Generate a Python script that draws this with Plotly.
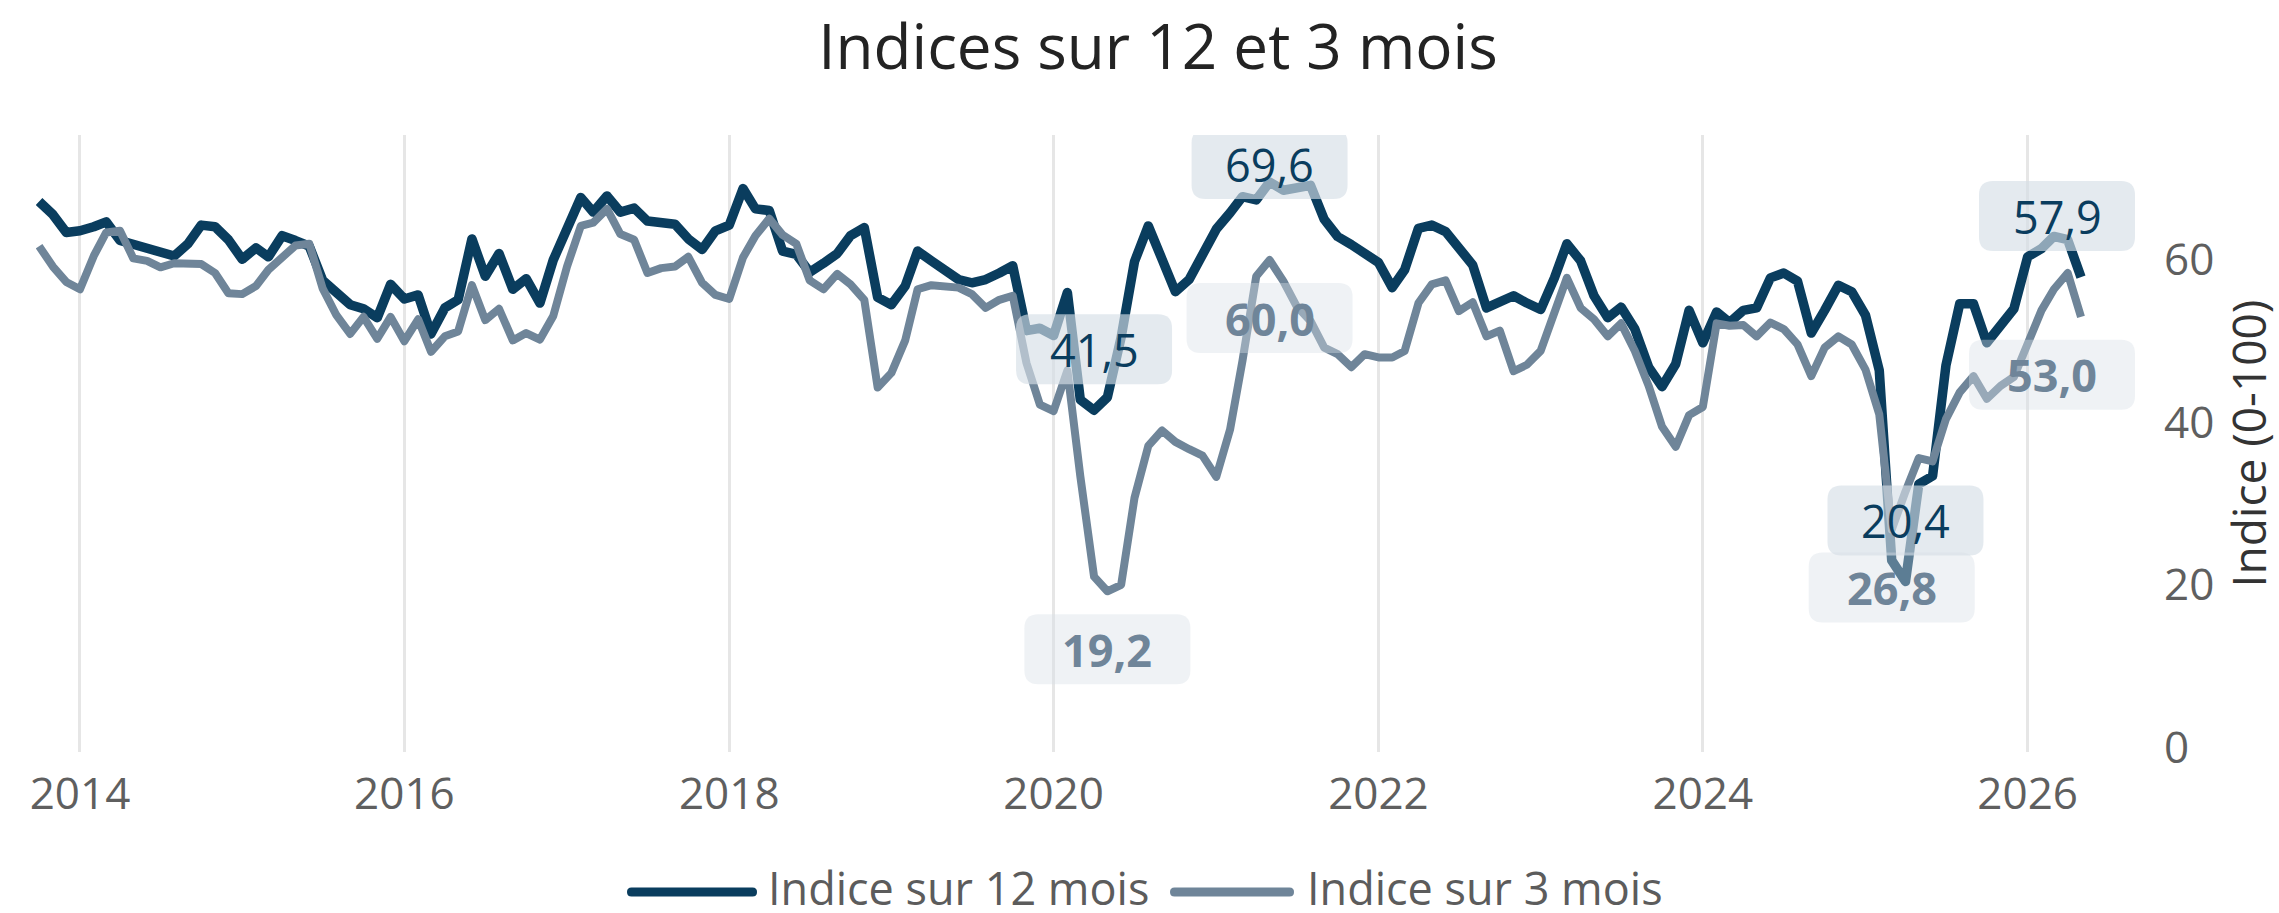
import pandas as pd
import plotly.graph_objects as go

# ---------------- data ----------------
first_month = "2013-10-01"

indice_12_mois = [
    67.2, 65.6, 63.4, 63.6, 64.1, 64.7, 62.4, 61.9, 61.3, 60.9,
    60.5, 62.0, 64.3, 64.1, 62.5, 60.1, 61.5, 60.4, 63.0, 62.4,
    61.7, 57.5, 55.8, 54.5, 54.0, 52.9, 57.0, 55.2, 55.7, 50.9,
    54.1, 55.1, 62.6, 58.0, 60.8, 56.4, 57.7, 54.7, 60.0, 63.7,
    67.7, 65.9, 67.9, 65.9, 66.4, 64.8, 64.6, 64.4, 62.6, 61.3,
    63.6, 64.3, 68.8, 66.3, 66.1, 61.1, 60.7, 58.5, 59.6, 60.8,
    63.0, 64.0, 55.4, 54.5, 56.8, 61.1, 59.9, 58.8, 57.6, 57.2,
    57.6, 58.4, 59.3, 51.3, 51.6, 50.7, 56.0, 42.8, 41.5, 43.1,
    50.5, 59.8, 64.2, 60.1, 56.1, 57.6, 60.9, 63.8, 65.8, 67.8,
    67.4, 69.6, 68.6, 69.0, 69.2, 65.0, 62.9, 61.9, 60.7, 59.7,
    56.6, 58.8, 63.9, 64.3, 63.5, 61.5, 59.4, 54.1, 55.0, 55.6,
    54.7, 53.9, 57.8, 62.0, 59.9, 55.6, 52.9, 54.2, 51.5, 46.8,
    44.4, 47.2, 53.8, 49.8, 53.6, 52.3, 53.8, 54.1, 57.8, 58.4,
    57.4, 51.0, 53.8, 56.9, 56.1, 53.2, 46.4, 23.0, 20.4, 32.4,
    33.4, 47.0, 54.6, 54.6, 49.8, 51.9, 54.0, 60.4, 61.4, 62.9,
    62.5, 57.9,
]

indice_3_mois = [
    61.7, 59.2, 57.3, 56.4, 60.5, 63.4, 63.6, 60.2, 59.9, 59.1,
    59.6, 59.5, 59.5, 58.4, 55.9, 55.8, 56.8, 58.8, 60.5, 61.8,
    62.0, 56.5, 53.2, 50.9, 53.0, 50.3, 53.0, 50.0, 52.7, 48.7,
    50.6, 51.2, 56.9, 52.6, 54.0, 50.1, 51.0, 50.2, 53.1, 59.2,
    64.2, 64.6, 66.3, 63.2, 62.5, 58.4, 59.0, 59.2, 60.4, 57.2,
    55.7, 55.2, 60.3, 63.0, 65.1, 63.1, 62.0, 57.5, 56.4, 58.3,
    57.0, 55.1, 44.3, 46.1, 50.1, 56.4, 56.9, 56.8, 56.6, 55.8,
    54.1, 55.1, 55.6, 47.3, 42.2, 41.4, 46.4, 33.4, 21.0, 19.2,
    20.0, 30.7, 37.1, 39.0, 37.6, 36.7, 35.9, 33.3, 39.1, 47.6,
    58.0, 60.0, 57.4, 54.3, 52.5, 49.2, 48.4, 46.8, 48.4, 48.0,
    48.0, 48.8, 54.7, 57.0, 57.5, 53.7, 54.8, 50.6, 51.3, 46.3,
    47.1, 48.8, 53.2, 57.8, 54.1, 52.7, 50.6, 52.2, 48.8, 44.5,
    39.5, 37.0, 40.9, 41.9, 52.2, 51.9, 52.0, 50.6, 52.3, 51.5,
    49.6, 45.7, 49.2, 50.6, 49.6, 46.5, 41.0, 26.8, 31.5, 35.6,
    35.2, 40.4, 43.7, 45.7, 42.9, 44.5, 45.6, 49.8, 53.8, 56.4,
    58.4, 53.0,
]

series_names = ["Indice sur 12 mois", "Indice sur 3 mois"]
series_colors = ["#0a3d5e", "#6f8599"]
label_points_12 = [78, 91, 138, 151]   # annotated months (index) for 12-month index
label_points_3 = [79, 91, 137, 151]    # annotated months (index) for 3-month index
x_tick_start = "2014-01-01"
y_tick_values = [0, 20, 40, 60]
title_text = "Indices sur 12 et 3 mois"
y_title_text = "Indice (0-100)"

months = pd.date_range(first_month, periods=len(indice_12_mois), freq="MS")

# ---------------- layout geometry ----------------
FONT = "Open Sans"
FIG_W, FIG_H = 2279, 913
M_L, M_R, M_T, M_B = 36, 138, 135, 161
PLOT_W = FIG_W - M_L - M_R
PLOT_H = FIG_H - M_T - M_B
X_RANGE = (pd.Timestamp("2013-09-24"), pd.Timestamp("2026-09-13"))
Y_RANGE = (-0.6, 75.4)


def to_px(date, v):
    fx = (date - X_RANGE[0]) / (X_RANGE[1] - X_RANGE[0])
    px = M_L + fx * PLOT_W
    py = M_T + (Y_RANGE[1] - v) / (Y_RANGE[1] - Y_RANGE[0]) * PLOT_H
    return px, py


def rrect(x0, x1, y0, y1, r):
    return (f"M{x0 + r},{y0} L{x1 - r},{y0} Q{x1},{y0} {x1},{y0 + r} "
            f"L{x1},{y1 - r} Q{x1},{y1} {x1 - r},{y1} L{x0 + r},{y1} "
            f"Q{x0},{y1} {x0},{y1 - r} L{x0},{y0 + r} Q{x0},{y0} {x0 + r},{y0} Z")


fig = go.Figure()
for name, vals, col, w in zip(series_names, [indice_12_mois, indice_3_mois],
                              series_colors, [9.5, 8]):
    fig.add_trace(go.Scatter(x=months, y=vals, mode="lines", name=name,
                             line=dict(color=col, width=w), showlegend=False,
                             hoverinfo="skip"))

shapes = []
annotations = []

# value labels (rounded boxes)
label_specs = [
    (indice_12_mois, label_points_12, series_colors[0], "above", 156,
     "rgba(214,222,230,0.65)", "normal"),
    (indice_3_mois, label_points_3, series_colors[1], "below", 166,
     "rgba(214,222,230,0.40)", "bold"),
]
BOX_H = 70
for vals, pts, col, where, bw, fill, weight in label_specs:
    for i in pts:
        d, v = months[i], vals[i]
        px, py = to_px(d, v)
        cx = px
        cy = py - 61 if where == "above" else py + 58
        right_lim = M_L + PLOT_W - 6
        top_lim = M_T - 6
        if cx + bw / 2 > right_lim:
            cx = right_lim - bw / 2
        if cy - BOX_H / 2 < top_lim:
            cy = top_lim + BOX_H / 2
        dx, dy = cx - px, cy - py          # screen offsets (y down)
        up = -dy
        shapes.append(dict(
            type="path", xref="x", yref="y", xsizemode="pixel", ysizemode="pixel",
            xanchor=d, yanchor=v, layer="above",
            path=rrect(dx - bw / 2, dx + bw / 2, up - BOX_H / 2, up + BOX_H / 2, 14),
            fillcolor=fill, line=dict(width=0)))
        annotations.append(dict(
            x=d, y=v, xref="x", yref="y", showarrow=False,
            xshift=dx, yshift=up, xanchor="center", yanchor="middle",
            text=f"{v:.1f}".replace(".", ","),
            font=dict(family=FONT, size=45, color=col, weight=weight)))

# manual legend
legend_items = [(627, 757, 766), (1170, 1294, 1305)]
LEG_Y_LINE, LEG_Y_TEXT = 892, 887
for (lx0, lx1, tx), name, col in zip(legend_items, series_names, series_colors):
    shapes.append(dict(
        type="path", xref="paper", yref="paper", xsizemode="pixel", ysizemode="pixel",
        xanchor=(lx0 - M_L) / PLOT_W, yanchor=(M_T + PLOT_H - LEG_Y_LINE) / PLOT_H,
        path=rrect(0, lx1 - lx0, -4.5, 4.5, 4.5), fillcolor=col, line=dict(width=0)))
    annotations.append(dict(
        x=(tx - M_L) / PLOT_W, y=(M_T + PLOT_H - LEG_Y_TEXT) / PLOT_H,
        xref="paper", yref="paper", showarrow=False, xanchor="left", yanchor="middle",
        text=name, font=dict(family=FONT, size=45, color="#5c5c5c")))

fig.update_layout(
    width=FIG_W, height=FIG_H,
    margin=dict(l=M_L, r=M_R, t=M_T, b=M_B, autoexpand=False),
    paper_bgcolor="white", plot_bgcolor="white",
    font=dict(family=FONT, color="#5f5f5f"),
    title=dict(text=title_text, x=1158 / FIG_W, xref="container", xanchor="center",
               y=1 - 47 / FIG_H, yref="container", yanchor="middle",
               font=dict(family=FONT, size=62, color="#232323")),
    xaxis=dict(type="date", range=[X_RANGE[0], X_RANGE[1]], tick0=x_tick_start,
               dtick="M24", tickformat="%Y", showgrid=True, gridcolor="#e6e6e6",
               gridwidth=3, zeroline=False, showline=False, ticks="",
               tickfont=dict(family=FONT, size=44, color="#5f5f5f"),
               ticklabelstandoff=12),
    yaxis=dict(range=list(Y_RANGE), side="right", tickmode="array",
               tickvals=y_tick_values, showgrid=False, zeroline=False, showline=False,
               ticks="", tickfont=dict(family=FONT, size=44, color="#5f5f5f"),
               ticklabelstandoff=22,
               title=dict(text=y_title_text, standoff=24,
                          font=dict(family=FONT, size=46, color="#333333"))),
    shapes=shapes,
    annotations=annotations,
)

post_js = (
    "document.body.style.margin='0px';"
    "document.body.style.overflow='hidden';"
    "document.querySelectorAll('path.js-line').forEach(function(p){"
    "p.style.strokeLinejoin='round';});"
)
fig.write_html("out.html", post_script=post_js,
               config={"displayModeBar": False, "staticPlot": True})
